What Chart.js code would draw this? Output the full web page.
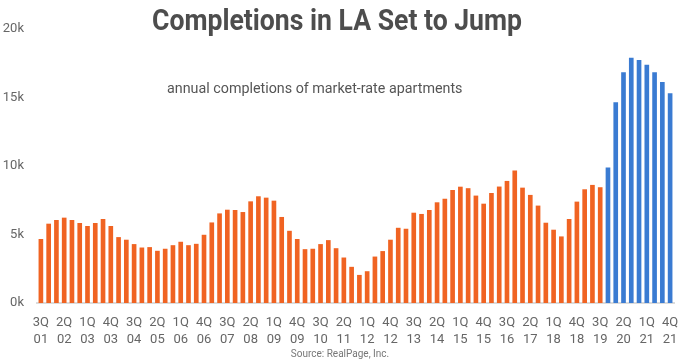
<!DOCTYPE html>
<html>
<head>
<meta charset="utf-8">
<script src="https://cdn.jsdelivr.net/npm/chart.js"></script>
<style>
  html, body { margin: 0; padding: 0; background: #fff; }
  #wrap { width: 680px; height: 361px; position: relative; }
</style>
</head>
<body>
<div id="wrap"><canvas id="chart"></canvas></div>
<script>
// Quarterly completions, 3Q01 - 4Q21
const quarters = [
  '3Q01','4Q01',
  '1Q02','2Q02','3Q02','4Q02',
  '1Q03','2Q03','3Q03','4Q03',
  '1Q04','2Q04','3Q04','4Q04',
  '1Q05','2Q05','3Q05','4Q05',
  '1Q06','2Q06','3Q06','4Q06',
  '1Q07','2Q07','3Q07','4Q07',
  '1Q08','2Q08','3Q08','4Q08',
  '1Q09','2Q09','3Q09','4Q09',
  '1Q10','2Q10','3Q10','4Q10',
  '1Q11','2Q11','3Q11','4Q11',
  '1Q12','2Q12','3Q12','4Q12',
  '1Q13','2Q13','3Q13','4Q13',
  '1Q14','2Q14','3Q14','4Q14',
  '1Q15','2Q15','3Q15','4Q15',
  '1Q16','2Q16','3Q16','4Q16',
  '1Q17','2Q17','3Q17','4Q17',
  '1Q18','2Q18','3Q18','4Q18',
  '1Q19','2Q19','3Q19','4Q19',
  '1Q20','2Q20','3Q20','4Q20',
  '1Q21','2Q21','3Q21','4Q21'
];

// actual completions (orange), null where forecast
const actual = [
  4670, 5790,
  6060, 6230, 6060, 5840,
  5620, 5840, 6130, 5620,
  4810, 4620, 4300, 4050,
  4080, 3810, 3960, 4220,
  4470, 4220, 4320, 4980,
  5880, 6540, 6810, 6790,
  6640, 7420, 7790, 7690,
  7470, 6280, 5270, 4670,
  3930, 3960, 4300, 4590,
  4000, 3320, 2640, 2050,
  2320, 3390, 3790, 4620,
  5490, 5420, 6590, 6500,
  6790, 7350, 7610, 8250,
  8490, 8380, 7840, 7250,
  8030, 8500, 8910, 9670,
  8420, 7890, 7110, 5860,
  5350, 4860, 6130, 7400,
  8300, 8620, 8450, null,
  null, null, null, null,
  null, null, null, null
];

// forecast completions (blue)
const forecast = [
  null, null,
  null, null, null, null,
  null, null, null, null,
  null, null, null, null,
  null, null, null, null,
  null, null, null, null,
  null, null, null, null,
  null, null, null, null,
  null, null, null, null,
  null, null, null, null,
  null, null, null, null,
  null, null, null, null,
  null, null, null, null,
  null, null, null, null,
  null, null, null, null,
  null, null, null, null,
  null, null, null, null,
  null, null, null, null,
  null, null, null, 9890,
  14650, 16850, 17900, 17730,
  17390, 16850, 16140, 15310
];

const yTicks = [0, 5000, 10000, 15000, 20000];

const titleText = 'Completions in LA Set to Jump';
const noteText = 'annual completions of market-rate apartments';
const sourceText = 'Source: RealPage, Inc.';

// title, note and source drawn on the canvas
const textPlugin = {
  id: 'textPlugin',
  afterDraw(chart) {
    const ctx = chart.ctx;
    ctx.save();
    // condensed bold title
    ctx.font = 'bold 30px Roboto';
    ctx.fillStyle = '#4d4d4d';
    ctx.textBaseline = 'alphabetic';
    ctx.textAlign = 'left';
    const w = ctx.measureText(titleText).width;
    const target = 370;
    const sx = target / w;
    ctx.translate(337 - target / 2, 29.5);
    ctx.scale(sx, 1);
    ctx.fillText(titleText, 0, 0);
    ctx.restore();

    ctx.save();
    ctx.font = '14.3px Roboto';
    ctx.fillStyle = '#555';
    ctx.textAlign = 'left';
    ctx.textBaseline = 'alphabetic';
    ctx.fillText(noteText, 167, 92.5);

    ctx.font = '10px Roboto';
    ctx.fillStyle = '#777';
    ctx.textAlign = 'center';
    ctx.textBaseline = 'middle';
    ctx.fillText(sourceText, 340, 354);
    ctx.restore();
  }
};

new Chart(document.getElementById('chart'), {
  type: 'bar',
  data: {
    labels: quarters,
    datasets: [{
      data: actual,
      backgroundColor: '#f06322',
      barPercentage: 0.6,
      categoryPercentage: 1,
      grouped: false
    }, {
      data: forecast,
      backgroundColor: '#3a7bd2',
      barPercentage: 0.6,
      categoryPercentage: 1,
      grouped: false
    }]
  },
  options: {
    responsive: true,
    maintainAspectRatio: false,
    animation: false,
    layout: {
      padding: { top: 29, left: 2, right: 6, bottom: 15 }
    },
    plugins: {
      legend: { display: false },
      tooltip: { enabled: false }
    },
    scales: {
      x: {
        grid: { display: false, drawTicks: false, tickLength: 0 },
        border: { display: true, color: '#dcdcdc', width: 2 },
        afterFit: function(axis) {
          axis.height = 43;
          axis.paddingLeft = 0;
          axis.paddingRight = 0;
        },
        ticks: {
          autoSkip: false,
          maxRotation: 0,
          minRotation: 0,
          padding: 12,
          color: '#666',
          font: { family: 'Roboto', size: 13, lineHeight: 1.25 },
          callback: function(value, index) {
            if (index % 3 !== 0) return '';
            const q = quarters[index];
            return [q.slice(0, 2), q.slice(2)];
          }
        }
      },
      y: {
        min: 0,
        max: 20000,
        grid: { display: false, drawTicks: false, tickLength: 0 },
        border: { display: false },
        afterFit: function(axis) { axis.width = 35; },
        afterBuildTicks: function(axis) {
          axis.ticks = yTicks.map(v => ({ value: v }));
        },
        ticks: {
          padding: 13,
          color: '#666',
          font: { family: 'Roboto', size: 13 },
          callback: function(value) {
            return (value / 1000) + 'k';
          }
        }
      }
    }
  },
  plugins: [textPlugin]
});
</script>
</body>
</html>
